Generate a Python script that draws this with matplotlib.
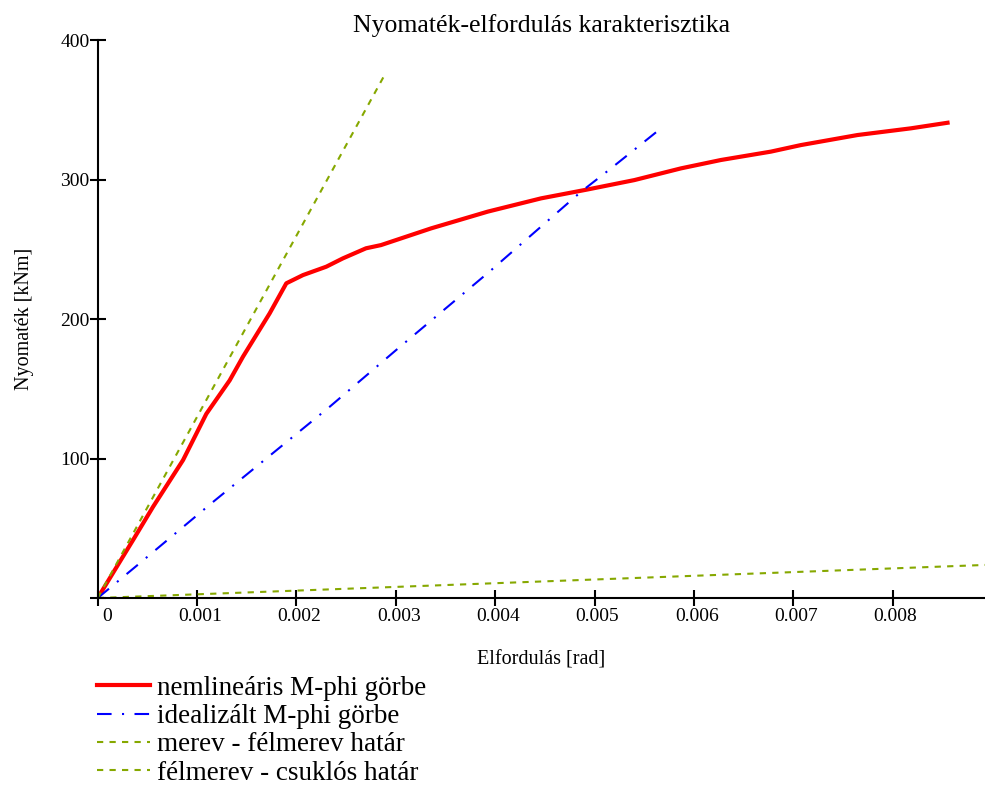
import matplotlib.pyplot as plt
import matplotlib.transforms as mtransforms

plt.rcParams['font.family'] = ['Liberation Serif', 'DejaVu Serif']

# nemlineáris M-phi görbe
phi_nl = [0, 0.000356, 0.000557, 0.000859, 0.001093, 0.001328, 0.001462, 0.00173,
          0.001898, 0.002066, 0.0023, 0.002468, 0.0027, 0.002851, 0.003356, 0.003926,
          0.004462, 0.004932, 0.005401, 0.00587, 0.006272, 0.006775, 0.007077,
          0.007647, 0.008184, 0.008553]
m_nl = [0, 41.6, 65.4, 98.9, 132, 156, 173, 204, 225.6, 231.5, 237.5, 243.5, 250.7,
        253, 265, 277, 286.5, 292.9, 299.6, 308, 314, 320, 324.7, 331.9, 336.7, 340.7]

# idealizált M-phi görbe
phi_id = [0, 0.000422, 0.001144, 0.001965, 0.002333, 0.003004, 0.003943, 0.004865,
          0.005166, 0.005669]
m_id = [0, 24.9, 67.9, 115.6, 137, 177.8, 234, 291.3, 308, 336.7]

# merev - félmerev határ
phi_mf = [0, 0.00288]
m_mf = [0, 374]

# félmerev - csuklós határ
phi_fc = [0, 0.00893]
m_fc = [0, 23.7]

xticks = [0, 0.001, 0.002, 0.003, 0.004, 0.005, 0.006, 0.007, 0.008]
xticklabels = ['0', '0.001', '0.002', '0.003', '0.004', '0.005', '0.006', '0.007', '0.008']
yticks = [0, 100, 200, 300, 400]
yticklabels = ['', '100', '200', '300', '400']

green = '#86a800'

fig = plt.figure(figsize=(9.85, 7.85), dpi=100)
ax = fig.add_axes([0.0992, 0.2382, 0.9008, 0.7108])

ax.plot(phi_nl, m_nl, color='red', lw=3, label='nemlineáris M-phi görbe')
ax.plot(phi_id, m_id, color='blue', lw=1.5, dashes=(7, 5, 1, 5),
        label='idealizált M-phi görbe')
ax.plot(phi_mf, m_mf, color=green, lw=1.5, dashes=(3, 3),
        label='merev - félmerev határ')
ax.plot(phi_fc, m_fc, color=green, lw=1.5, dashes=(3, 3),
        label='félmerev - csuklós határ')

ax.set_xlim(0.000014, 0.00893)
ax.set_ylim(0, 400)
ax.set_xticks(xticks)
ax.set_xticklabels(xticklabels)
ax.set_yticks(yticks)
ax.set_yticklabels(yticklabels)
for s in ['top', 'right']:
    ax.spines[s].set_visible(False)
for s in ['left', 'bottom']:
    ax.spines[s].set_linewidth(1.5)
    ax.spines[s].set_clip_on(False)
ax.tick_params(direction='inout', length=12, width=1.5, labelsize=14)
ax.tick_params(axis='x', pad=1.5)
ax.tick_params(axis='y', pad=0)

# tick labels sit a bit right of the ticks
for i, lbl in enumerate(ax.get_xticklabels()):
    dx = 9 if i == 0 else 3
    off = mtransforms.ScaledTranslation(dx / 100, 0, fig.dpi_scale_trans)
    lbl.set_transform(lbl.get_transform() + off)

ax.set_title('Nyomaték-elfordulás karakterisztika', fontsize=18.5, pad=6)
ax.set_xlabel('Elfordulás [rad]', fontsize=14.5, labelpad=18)
ax.set_ylabel('Nyomaték [kNm]', fontsize=14.5, labelpad=19)

fig.legend(loc='upper left', bbox_to_anchor=(0.0985, 0.139), frameon=False,
           fontsize=19.5, handlelength=1.96, handletextpad=0.26, labelspacing=0.12,
           borderaxespad=0, borderpad=0)

fig.savefig('out.png', dpi=100)
